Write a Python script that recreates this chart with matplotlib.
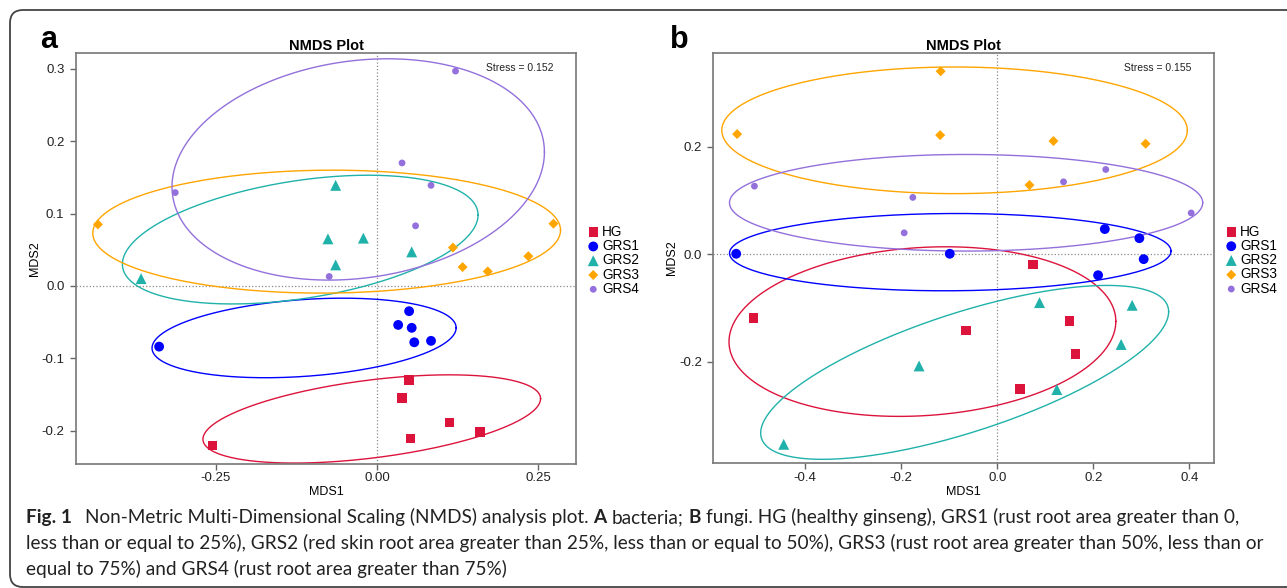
import matplotlib
matplotlib.use("Agg")
import numpy as np
import matplotlib.pyplot as plt
from matplotlib.patches import FancyBboxPatch
from matplotlib.ticker import FormatStrFormatter

W, H = 1287, 588

GROUPS = ["HG", "GRS1", "GRS2", "GRS3", "GRS4"]

# panel a: bacteria
A_MDS1 = [
    [0.050, 0.039, 0.113, 0.160, 0.052, -0.255],
    [0.050, 0.033, 0.054, 0.058, 0.084, -0.338],
    [-0.064, -0.076, -0.021, -0.064, 0.054, -0.366],
    [-0.433, 0.274, 0.118, 0.133, 0.172, 0.235],
    [-0.313, 0.122, 0.039, 0.084, 0.060, -0.074],
]
A_MDS2 = [
    [-0.130, -0.155, -0.189, -0.202, -0.211, -0.221],
    [-0.035, -0.054, -0.058, -0.078, -0.076, -0.084],
    [0.139, 0.065, 0.066, 0.029, 0.047, 0.010],
    [0.085, 0.086, 0.053, 0.026, 0.020, 0.041],
    [0.129, 0.297, 0.170, 0.139, 0.083, 0.013],
]
# ellipse centre, half width, half height, y offset at right-most point
A_ELL_CX = [-0.008, -0.113, -0.119, -0.078, -0.029]
A_ELL_CY = [-0.184, -0.072, 0.064, 0.075, 0.161]
A_ELL_HW = [0.262, 0.236, 0.276, 0.363, 0.289]
A_ELL_HH = [0.061, 0.055, 0.089, 0.085, 0.153]
A_ELL_TILT = [0.028, 0.014, 0.034, 0.002, 0.024]
A_STRESS = 0.152

# panel b: fungi
B_MDS1 = [
    [-0.508, -0.065, 0.150, 0.163, 0.047, 0.074],
    [-0.544, -0.099, 0.224, 0.296, 0.305, 0.210],
    [0.088, 0.281, 0.258, 0.124, -0.163, -0.445],
    [-0.542, -0.118, -0.119, 0.117, 0.309, 0.067],
    [-0.506, -0.176, -0.194, 0.138, 0.226, 0.404],
]
B_MDS2 = [
    [-0.119, -0.142, -0.124, -0.186, -0.251, -0.019],
    [0.001, 0.001, 0.047, 0.030, -0.009, -0.039],
    [-0.090, -0.095, -0.168, -0.252, -0.208, -0.354],
    [0.224, 0.341, 0.222, 0.211, 0.206, 0.129],
    [0.127, 0.106, 0.040, 0.135, 0.158, 0.077],
]
B_ELL_CX = [-0.156, -0.098, -0.068, -0.089, -0.065]
B_ELL_CY = [-0.144, 0.004, -0.220, 0.231, 0.096]
B_ELL_HW = [0.403, 0.460, 0.425, 0.485, 0.493]
B_ELL_HH = [0.158, 0.072, 0.162, 0.118, 0.090]
B_ELL_TILT = [0.019, 0.002, 0.113, 0.0, 0.0]
B_STRESS = 0.155

CAPTION = [
    [("Fig. 1", "bold", 0), ("Non-Metric Multi-Dimensional Scaling (NMDS) analysis plot.", "normal", -1),
     ("A", "bold", 1), ("bacteria;", "normal", 1), ("B", "bold", 1),
     ("fungi. HG (healthy ginseng), GRS1 (rust root area greater than 0,", "normal", 1)],
    [("less than or equal to 25%), GRS2 (red skin root area greater than 25%, less than or "
      "equal to 50%), GRS3 (rust root area greater than 50%, less than or", "normal", 0)],
    [("equal to 75%) and GRS4 (rust root area greater than 75%)", "normal", 0)],
]

COLORS = ["#DC143C", "#0000FF", "#20B2AA", "#FFA500", "#9370DB"]
MARKERS = ["s", "o", "^", "D", "o"]
SIZES = [46, 50, 62, 26, 24]
CAPTION_FONT = "Lato"

plt.rcParams["font.family"] = ["Liberation Sans", "DejaVu Sans"]
plt.rcParams["axes.unicode_minus"] = False


def ellipse_xy(cx, cy, hw, hh, tilt, n=300):
    cov = np.array([[hw ** 2, tilt * hw], [tilt * hw, hh ** 2]])
    L = np.linalg.cholesky(cov)
    t = np.linspace(0, 2 * np.pi, n)
    pts = L @ np.vstack([np.cos(t), np.sin(t)])
    return cx + pts[0], cy + pts[1]


def draw_panel(ax, xs, ys, ell, stress, xlim, ylim, xticks, yticks, xfmt, yfmt, ylab_x):
    ax.axhline(0, color="#8a8a8a", ls=":", lw=0.9, zorder=0)
    ax.axvline(0, color="#8a8a8a", ls=":", lw=0.9, zorder=0)

    for i in range(len(GROUPS)):
        ex, ey = ellipse_xy(ell[0][i], ell[1][i], ell[2][i], ell[3][i], ell[4][i])
        ax.plot(ex, ey, color=COLORS[i], lw=1.0, zorder=1)

    handles = []
    for i, g in enumerate(GROUPS):
        h = ax.scatter(xs[i], ys[i], s=SIZES[i], marker=MARKERS[i], color=COLORS[i],
                       edgecolors="none", zorder=3, label=g)
        handles.append(h)

    ax.set_xlim(*xlim)
    ax.set_ylim(*ylim)
    ax.set_xticks(xticks)
    ax.set_yticks(yticks)
    ax.xaxis.set_major_formatter(FormatStrFormatter(xfmt))
    ax.yaxis.set_major_formatter(FormatStrFormatter(yfmt))
    ax.tick_params(direction="out", length=4.5, width=1.0, color="#666666",
                   labelsize=9.5, labelcolor="#222222")
    ax.tick_params(axis="x", pad=1.6)
    ax.tick_params(axis="y", pad=3.8)
    for s in ax.spines.values():
        s.set_color("#777777")
        s.set_linewidth(1.2)

    ax.set_title("NMDS Plot", fontweight="bold", fontsize=10.5, pad=2.2)
    ax.set_xlabel("MDS1", fontsize=9, va="center")
    ax.set_ylabel("MDS2", fontsize=9, va="center")
    ax.xaxis.set_label_coords(0.5, -0.0687)
    ax.yaxis.set_label_coords(ylab_x, 0.5)

    ax.text(0.954, 0.9635, "Stress = {:.3f}".format(stress), transform=ax.transAxes,
            ha="right", va="center", fontsize=7.5, color="#222222")

    ax.legend(handles=handles, loc="center left", bbox_to_anchor=(1.0236, 0.495),
              frameon=False, fontsize=9.8, labelspacing=0.02, handlelength=0.8,
              handletextpad=0.25, borderpad=0, borderaxespad=0, scatterpoints=1)


def text_width(fig, renderer, s, size, weight):
    t = fig.text(0, 0, s, fontsize=size, fontweight=weight, family=CAPTION_FONT)
    w = t.get_window_extent(renderer).width
    t.remove()
    return w


def draw_caption(fig):
    renderer = fig.canvas.get_renderer()
    # fit the font size to the width of the second caption line
    size = 13.5
    w = text_width(fig, renderer, CAPTION[1][0][0], size, "normal")
    size = size * 1236.0 / w
    space = text_width(fig, renderer, "n n", size, "normal") - text_width(fig, renderer, "nn", size, "normal")

    baselines = [523, 549, 575]
    for line, yb in zip(CAPTION, baselines):
        x = 26.0
        for text, weight, gap in line:
            if gap == -1:
                x += 13.0
            else:
                x += gap * space
            t = fig.text(x / W, 1 - yb / H, text, fontsize=size, fontweight=weight,
                         family=CAPTION_FONT, ha="left", va="baseline", color="#222222")
            x += t.get_window_extent(renderer).width


def main():
    fig = plt.figure(figsize=(W / 100, H / 100), dpi=100)

    border = FancyBboxPatch((0.10, 0.01), 12.9, 5.77, boxstyle="round,pad=0,rounding_size=0.13",
                            transform=fig.dpi_scale_trans, facecolor="none",
                            edgecolor="#444444", lw=1.3)
    fig.patches.append(border)

    ax_a = fig.add_axes([76 / W, (H - 463.5) / H, 500 / W, 410.5 / H])
    ax_b = fig.add_axes([713.3 / W, (H - 463.3) / H, 500.7 / W, 410.6 / H])

    draw_panel(ax_a, A_MDS1, A_MDS2,
               [A_ELL_CX, A_ELL_CY, A_ELL_HW, A_ELL_HH, A_ELL_TILT], A_STRESS,
               (-0.467, 0.309), (-0.2456, 0.322),
               [-0.25, 0.0, 0.25], [-0.2, -0.1, 0.0, 0.1, 0.2, 0.3], "%.2f", "%.1f", -0.0814)
    draw_panel(ax_b, B_MDS1, B_MDS2,
               [B_ELL_CX, B_ELL_CY, B_ELL_HW, B_ELL_HH, B_ELL_TILT], B_STRESS,
               (-0.5917, 0.4515), (-0.3894, 0.3756),
               [-0.4, -0.2, 0.0, 0.2, 0.4], [-0.2, 0.0, 0.2], "%.1f", "%.1f", -0.0825)

    fig.text(40 / W, 1 - 48.3 / H, "a", fontsize=22, fontweight="bold", va="baseline")
    fig.text(670 / W, 1 - 48.3 / H, "b", fontsize=22, fontweight="bold", va="baseline")

    draw_caption(fig)

    fig.savefig("out.png", dpi=100)


if __name__ == "__main__":
    main()
